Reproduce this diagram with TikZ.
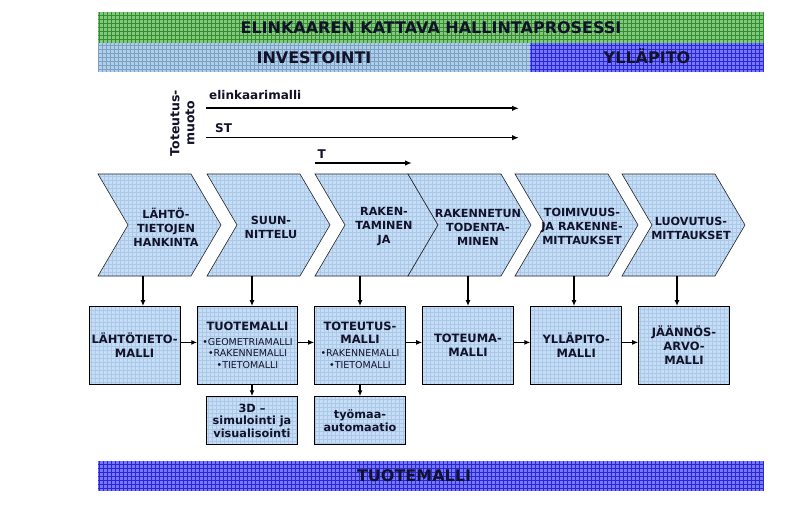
\documentclass[tikz,border=0pt]{standalone}
\usepackage{fontspec}
\setmainfont{DejaVu Sans}
\usetikzlibrary{arrows.meta,calc}
\definecolor{boxfill}{RGB}{198,221,246}
\definecolor{boxgrid}{RGB}{172,200,232}
\definecolor{greenfill}{RGB}{130,202,122}
\definecolor{greengrid}{RGB}{52,140,52}
\definecolor{greyfill}{RGB}{178,206,228}
\definecolor{greygrid}{RGB}{122,162,200}
\definecolor{bluefill}{RGB}{118,118,255}
\definecolor{bluegrid}{RGB}{40,40,212}
\definecolor{txt}{RGB}{18,18,42}
\tikzset{
  gridded/.style={path picture={\draw[#1,line width=0.35pt] (path picture bounding box.south west) grid[step=4pt] (path picture bounding box.north east);}},
  barback/.style={inner sep=0pt, outer sep=0pt},
  bartext/.style={inner sep=0pt, outer sep=0pt, font=\bfseries\fontsize{16}{18}\selectfont, text height=11.7pt, text depth=0pt, text=txt},
  chev/.style={fill=boxfill, draw=black!85, line width=0.6pt, gridded=boxgrid},
  chevtext/.style={align=center, font=\bfseries\fontsize{11.2}{14}\selectfont, text=txt, inner sep=0pt},
  mbox/.style={draw=black, line width=0.9pt, fill=boxfill, gridded=boxgrid, minimum width=90.7pt, minimum height=77.8pt, align=center, inner sep=0pt, text=txt, font=\bfseries\fontsize{11.5}{14}\selectfont},
  sbox/.style={mbox, minimum height=47.6pt, font=\bfseries\fontsize{11.3}{12.5}\selectfont},
  listbox/.style={mbox, font=\fontsize{9.5}{11.7}\selectfont},
  arr/.style={line width=1.3pt, -{Latex[length=6pt,width=5pt]}},
  toparr/.style={line width=1.6pt, -{Latex[length=7pt,width=5.5pt]}},
  lbl/.style={font=\bfseries\fontsize{12}{14}\selectfont, anchor=base west, inner sep=0pt, text=txt},
}
\newcommand\mychev[1]{\path[chev] (#1,174) -- ++(93,0) -- ++(30,51) -- ++(-30,51) -- ++(-93,0) -- ++(30,-51) -- cycle;}
\begin{document}
\begin{tikzpicture}[x=1pt,y=-1pt]
\useasboundingbox[fill=white] (0,0) rectangle (793,524);
% top bars
\node[barback, fill=greenfill, gridded=greengrid, minimum width=666pt, minimum height=30.4pt] (hallbar) at (431,27.5) {};
\node[bartext] (hall) at (431,27.5) {ELINKAAREN KATTAVA HALLINTAPROSESSI};
\node[barback, fill=greyfill, gridded=greygrid, minimum width=432pt, minimum height=29.6pt] (invbar) at (314,57.5) {};
\node[bartext] (inv) at (314,57.5) {INVESTOINTI};
\node[barback, fill=bluefill, gridded=bluegrid, minimum width=234pt, minimum height=29.6pt] (yllbar) at (647,57.5) {};
\node[bartext] (yll) at (647,57.5) {YLLÄPITO};
% toteutusmuoto
\node[rotate=90, align=center, inner sep=0pt, text=txt, font=\bfseries\fontsize{12.5}{15}\selectfont] (tm) at (182.5,123) {Toteutus-\\muoto};
\node[lbl] (elk) at (209,100) {elinkaarimalli};
\node[lbl] (st) at (215,132.7) {ST};
\node[lbl] (t) at (317.5,158.3) {T};
\coordinate (a1s) at (206,108.3); \coordinate (a1e) at (519,108.3);
\coordinate (a2s) at (206,137.7); \coordinate (a2e) at (519,137.7);
\coordinate (a3s) at (315,163); \coordinate (a3e) at (412,163);
\draw[toparr] (a1s) -- (a1e);
\draw[toparr] (a2s) -- (a2e);
\draw[toparr] (a3s) -- (a3e);
% chevrons
\mychev{98}
\mychev{207}
\mychev{315}
\mychev{408}
\mychev{515}
\mychev{622}
\node[chevtext] (ch1) at (166,227) {LÄHTÖ-\\TIETOJEN\\HANKINTA};
\node[chevtext] (ch2) at (271,227) {SUUN-\\NITTELU};
\node[chevtext] (ch3) at (384,227) {RAKEN-\\TAMINEN\\JA};
\node[chevtext] (ch4) at (478,227) {RAKENNETUN\\TODENTA-\\MINEN};
\node[chevtext] (ch5) at (582,226) {TOIMIVUUS-\\JA RAKENNE-\\MITTAUKSET};
\node[chevtext] (ch6) at (691,228) {LUOVUTUS-\\MITTAUKSET};
\coordinate (cb1) at (143,276);
\coordinate (cb2) at (252,276);
\coordinate (cb3) at (360,276);
\coordinate (cb4) at (468,276);
\coordinate (cb5) at (574,276);
\coordinate (cb6) at (677,276);
% model boxes
\node[mbox] (b1) at (134.6,345.4) {LÄHTÖTIETO-\\MALLI};
\node[listbox, minimum width=99.6pt] (b2) at (247.5,345.4) {{\bfseries\fontsize{11.5}{12}\selectfont TUOTEMALLI}\\[2.5pt]•GEOMETRIAMALLI\\•RAKENNEMALLI\\•TIETOMALLI};
\node[listbox] (b3) at (360,345.4) {{\bfseries\fontsize{11.5}{12}\selectfont TOTEUTUS-}\\[1pt]{\bfseries\fontsize{11.5}{12}\selectfont MALLI}\\[1.6pt]•RAKENNEMALLI\\•TIETOMALLI};
\node[mbox] (b4) at (468,345.4) {TOTEUMA-\\MALLI};
\node[mbox] (b5) at (576.2,345.4) {YLLÄPITO-\\MALLI};
\node[mbox] (b6) at (684,345.4) {JÄÄNNÖS-\\ARVO-\\MALLI};
\node[sbox] (s1) at (252,420.5) {3D –\\simulointi ja\\visualisointi};
\node[sbox] (s2) at (360,420.5) {työmaa-\\automaatio};
% connectors
\foreach \i in {1,...,6}{\draw[arr] (cb\i) -- (cb\i |- b\i.north);}
\draw[arr] ([yshift=3pt]b1.east) -- ([yshift=3pt]b2.west);
\draw[arr] ([yshift=3pt]b2.east) -- ([yshift=3pt]b3.west);
\draw[arr] ([yshift=3pt]b3.east) -- ([yshift=3pt]b4.west);
\draw[arr] ([yshift=3pt]b4.east) -- ([yshift=3pt]b5.west);
\draw[arr] ([yshift=3pt]b5.east) -- ([yshift=3pt]b6.west);
\draw[arr] (s1.north |- b2.south) -- (s1.north);
\draw[arr] (b3.south) -- (s2.north);
% bottom bar
\node[barback, fill=bluefill, gridded=bluegrid, minimum width=666pt, minimum height=29.7pt] (tuobar) at (431,475.9) {};
\node[bartext] (tuo) at (414,475.9) {TUOTEMALLI};
\end{tikzpicture}
\end{document}
